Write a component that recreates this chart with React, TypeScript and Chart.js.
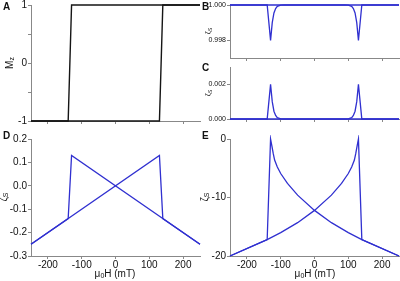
import React, { useEffect, useRef } from 'react';
import { Chart, registerables } from 'chart.js';

Chart.register(...registerables);

const CW = 400;
const CH = 281;
const FONT = "'Liberation Sans', Arial, Helvetica, sans-serif";
const BLUE = '#3030d0';
const AXIS = '#888888';
const TEXT = '#111111';

const xTickValues = [-200, -100, 0, 100, 200];
const xTickLabels = ['-200', '-100', '0', '100', '200'];

// Panel A: Mz hysteresis
const aDownField = [250, -130, -140, -250];
const aDownMz = [1, 1, -1, -1];
const aUpField = [-250, 130, 140, 250];
const aUpMz = [-1, -1, 1, 1];
const aYTicks = [-1, -0.5, 0, 0.5, 1];
const aYLabels = ['-1', '', '0', '', '1'];

// Panel B
const bDownField = [250, -90, -100, -110, -115, -120, -125, -130, -140, -250];
const bDownZeta = [1, 1, 0.99999, 0.99992, 0.9998, 0.99955, 0.999, 0.998, 1, 1];
const bUpField = [-250, 90, 100, 110, 115, 120, 125, 130, 140, 250];
const bUpZeta = [1, 1, 0.99999, 0.99992, 0.9998, 0.99955, 0.999, 0.998, 1, 1];
const bYTicks = [0.998, 1.0];
const bYLabels = ['0.998', '1.000'];

// Panel C
const cDownField = [250, -90, -100, -110, -115, -120, -125, -130, -140, -250];
const cDownZeta = [0, 0, 0.00001, 0.00008, 0.0002, 0.00045, 0.001, 0.002, 0, 0];
const cUpField = [-250, 90, 100, 110, 115, 120, 125, 130, 140, 250];
const cUpZeta = [0, 0, 0.00001, 0.00008, 0.0002, 0.00045, 0.001, 0.002, 0, 0];
const cYTicks = [0, 0.002];
const cYLabels = ['0.000', '0.002'];

// Panel D
const dDownField = [250, -130, -140, -250];
const dDownZeta = [-0.25, 0.13, -0.14, -0.25];
const dUpField = [-250, 130, 140, 250];
const dUpZeta = [-0.25, 0.13, -0.14, -0.25];
const dYTicks = [-0.3, -0.2, -0.1, 0, 0.1, 0.2];
const dYLabels = ['-0.3', '-0.2', '-0.1', '0.0', '0.1', '0.2'];

// Panel E
const eDownField = [250, 140, 100, 50, 0, -50, -80, -100, -110, -118, -122, -126, -130, -140, -250];
const eDownZeta = [-20, -17.2, -16.0, -14.3, -12.2, -9.6, -7.6, -5.9, -4.8, -3.6, -2.5, -1.2, 0, -17.2, -20];
const eUpField = [-250, -140, -100, -50, 0, 50, 80, 100, 110, 118, 122, 126, 130, 140, 250];
const eUpZeta = [-20, -17.2, -16.0, -14.3, -12.2, -9.6, -7.6, -5.9, -4.8, -3.6, -2.5, -1.2, 0, -17.2, -20];
const eYTicks = [-20, -10, 0];
const eYLabels = ['-20', '-10', '0'];

type Area = { left: number; top: number; right: number; bottom: number };

interface PanelSpec {
  area: Area;
  yMin: number;
  yMax: number;
  yTicks: number[];
  yLabels: string[];
  yFont: number;
  showXLabels: boolean;
  color: string;
  width: number;
  series: { field: number[]; values: number[] }[];
}

const toPoints = (f: number[], v: number[]) => f.map((x, i) => ({ x, y: v[i] }));

const panels: PanelSpec[] = [
  {
    area: { left: 31, top: 5, right: 200, bottom: 121 },
    yMin: -1, yMax: 1, yTicks: aYTicks, yLabels: aYLabels, yFont: 10, showXLabels: false, color: '#151515', width: 1.4,
    series: [{ field: aDownField, values: aDownMz }, { field: aUpField, values: aUpMz }],
  },
  {
    area: { left: 230, top: 5, right: 399, bottom: 58 },
    yMin: 0.997, yMax: 1.0, yTicks: bYTicks, yLabels: bYLabels, yFont: 7, showXLabels: false, color: BLUE, width: 1.3,
    series: [{ field: bDownField, values: bDownZeta }, { field: bUpField, values: bUpZeta }],
  },
  {
    area: { left: 230, top: 67, right: 399, bottom: 119 },
    yMin: 0, yMax: 0.003, yTicks: cYTicks, yLabels: cYLabels, yFont: 7, showXLabels: false, color: BLUE, width: 1.3,
    series: [{ field: cDownField, values: cDownZeta }, { field: cUpField, values: cUpZeta }],
  },
  {
    area: { left: 31, top: 139, right: 200, bottom: 256 },
    yMin: -0.3, yMax: 0.2, yTicks: dYTicks, yLabels: dYLabels, yFont: 10, showXLabels: true, color: BLUE, width: 1.3,
    series: [{ field: dDownField, values: dDownZeta }, { field: dUpField, values: dUpZeta }],
  },
  {
    area: { left: 230, top: 139, right: 399, bottom: 256 },
    yMin: -20, yMax: 0, yTicks: eYTicks, yLabels: eYLabels, yFont: 10, showXLabels: true, color: BLUE, width: 1.3,
    series: [{ field: eDownField, values: eDownZeta }, { field: eUpField, values: eUpZeta }],
  },
];

const Y_W = 30;
const X_H = 15;

function buildConfig(p: PanelSpec): any {
  const padding = {
    left: p.area.left - Y_W,
    top: p.area.top,
    right: CW - p.area.right,
    bottom: CH - p.area.bottom - X_H,
  };
  return {
    type: 'scatter',
    data: {
      datasets: p.series.map((s) => ({
        data: toPoints(s.field, s.values),
        showLine: true,
        borderColor: p.color,
        borderWidth: p.width,
        pointRadius: 0,
        tension: 0,
        fill: false,
        clip: 4,
      })),
    },
    options: {
      animation: false,
      responsive: false,
      maintainAspectRatio: false,
      devicePixelRatio: 1,
      layout: { padding },
      plugins: { legend: { display: false }, tooltip: { enabled: false }, title: { display: false } },
      events: [],
      scales: {
        x: {
          type: 'linear',
          min: -250,
          max: 250,
          afterBuildTicks: (s: any) => {
            s.ticks = xTickValues.map((v) => ({ value: v }));
          },
          afterFit: (s: any) => {
            s.height = X_H;
            s.paddingLeft = 0;
            s.paddingRight = 0;
            s.paddingTop = 0;
            s.paddingBottom = 0;
          },
          border: { display: true, color: AXIS, width: 1 },
          grid: { display: true, drawOnChartArea: false, drawTicks: true, tickLength: 3, color: AXIS, tickColor: AXIS },
          ticks: {
            display: p.showXLabels,
            padding: 0,
            color: TEXT,
            font: { family: FONT, size: 10 },
            maxRotation: 0,
            autoSkip: false,
            callback: (_v: any, i: number) => xTickLabels[i],
          },
        },
        y: {
          type: 'linear',
          min: p.yMin,
          max: p.yMax,
          afterBuildTicks: (s: any) => {
            s.ticks = p.yTicks.map((v) => ({ value: v }));
          },
          afterFit: (s: any) => {
            s.width = Y_W;
            s.paddingLeft = 0;
            s.paddingRight = 0;
            s.paddingTop = 0;
            s.paddingBottom = 0;
          },
          border: { display: true, color: AXIS, width: 1 },
          grid: { display: true, drawOnChartArea: false, drawTicks: true, tickLength: 3, color: AXIS, tickColor: AXIS },
          ticks: {
            padding: 1,
            color: TEXT,
            font: { family: FONT, size: p.yFont },
            autoSkip: false,
            callback: (_v: any, i: number) => p.yLabels[i],
          },
        },
      },
    },
  };
}

function Panel({ spec }: { spec: PanelSpec }) {
  const ref = useRef<HTMLCanvasElement | null>(null);
  useEffect(() => {
    if (!ref.current) return;
    const chart = new Chart(ref.current, buildConfig(spec));
    return () => chart.destroy();
  }, [spec]);
  return (
    <canvas
      ref={ref}
      width={CW}
      height={CH}
      style={{ position: 'absolute', left: 0, top: 0, width: CW, height: CH, pointerEvents: 'none' }}
    />
  );
}

const letterStyle = (left: number, top: number): React.CSSProperties => ({
  position: 'absolute',
  left,
  top,
  fontFamily: FONT,
  fontWeight: 'bold',
  fontSize: 10,
  lineHeight: '10px',
  color: '#111',
});

const yTitleStyle = (cx: number, cy: number, size: number): React.CSSProperties => ({
  position: 'absolute',
  left: cx,
  top: cy,
  transform: 'translate(-50%, -50%) rotate(-90deg)',
  fontFamily: FONT,
  fontSize: size,
  lineHeight: `${size}px`,
  color: TEXT,
  whiteSpace: 'nowrap',
});

const xTitleStyle = (cx: number, cy: number): React.CSSProperties => ({
  position: 'absolute',
  left: cx,
  top: cy,
  transform: 'translate(-50%, -50%)',
  fontFamily: FONT,
  fontSize: 10,
  lineHeight: '10px',
  color: TEXT,
  whiteSpace: 'nowrap',
});

const subStyle: React.CSSProperties = { fontSize: '70%', verticalAlign: '-0.25em' };

export default function App() {
  return (
    <div
      style={{ position: 'fixed', left: 0, top: 0, width: CW, height: CH, background: '#ffffff', overflow: 'hidden' }}
    >
      {panels.map((p, i) => (
        <Panel key={i} spec={p} />
      ))}
      <div style={letterStyle(3, 2)}>A</div>
      <div style={letterStyle(202, 2)}>B</div>
      <div style={letterStyle(202, 63)}>C</div>
      <div style={letterStyle(3, 131)}>D</div>
      <div style={letterStyle(202, 131)}>E</div>

      <div style={yTitleStyle(11, 63, 10)}>
        M<span style={subStyle}>z</span>
      </div>
      <div style={yTitleStyle(209, 31, 7)}>
        ζ<span style={subStyle}>S</span>
      </div>
      <div style={yTitleStyle(209, 93, 7)}>
        ζ<span style={subStyle}>S</span>
      </div>
      <div style={yTitleStyle(5, 197, 10)}>
        ζ<span style={subStyle}>S</span>
      </div>
      <div style={yTitleStyle(206, 197, 10)}>
        ζ<span style={subStyle}>S</span>
      </div>

      <div style={xTitleStyle(115, 275)}>
        μ<span style={subStyle}>0</span>H (mT)
      </div>
      <div style={xTitleStyle(315, 275)}>
        μ<span style={subStyle}>0</span>H (mT)
      </div>
    </div>
  );
}
